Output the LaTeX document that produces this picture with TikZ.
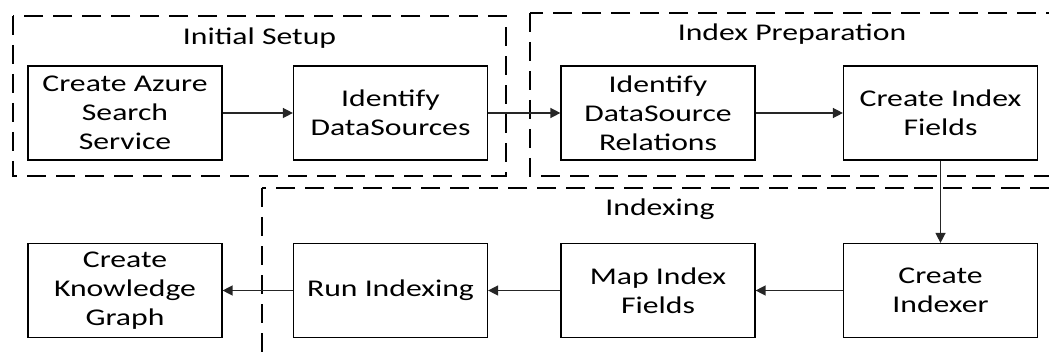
\documentclass[tikz,border=0pt]{standalone}
\usepackage{fontspec}
\setmainfont{Carlito}[FakeStretch=1.32]
\usetikzlibrary{arrows.meta}
\begin{document}
\begin{tikzpicture}[x=1pt,y=-1pt,
  stepbox/.style={draw=black, line width=1.2pt, minimum width=194pt,
    minimum height=94pt, inner sep=0pt, align=center,
    font=\fontsize{24}{29}\selectfont},
  grp/.style={draw=black, line width=2.6pt, dash pattern=on 19pt off 10pt},
  grplabel/.style={inner sep=0pt, font=\fontsize{24}{29}\selectfont},
  flow/.style={draw=black!85, line width=1.4pt,
    -{Triangle[length=10pt,width=10pt]}}]
\useasboundingbox (0,0) rectangle (1049,358);

% phase groups
\draw[grp] (13,16) rectangle (506,176);
\draw[grp] (530,13) rectangle (1055,176);
\draw[grp] (262,188) rectangle (1058,380);
\node[grplabel] (lsetup) at (259.5,38) {Initial Setup};
\node[grplabel] (lprep) at (792,34) {Index Preparation};
\node[grplabel] (lindex) at (660,209) {Indexing};

% steps
\node[stepbox] (azure) at (125,113) {Create Azure\\Search\\Service};
\node[stepbox] (ds) at (390.5,113) {Identify\\DataSources};
\node[stepbox] (rel) at (658,113) {Identify\\DataSource\\Relations};
\node[stepbox] (fields) at (940.5,113) {Create Index\\Fields};
\node[stepbox] (graph) at (125,290.5) {Create\\Knowledge\\Graph};
\node[stepbox] (run) at (390.5,290.5) {Run Indexing};
\node[stepbox] (map) at (658,290.5) {Map Index\\Fields};
\node[stepbox] (indexer) at (940.5,290.5) {Create\\Indexer};

% flow
\draw[flow] (azure) -- (ds);
\draw[flow] (ds) -- (rel);
\draw[flow] (rel) -- (fields);
\draw[flow] (fields) -- (indexer);
\draw[flow] (indexer) -- (map);
\draw[flow] (map) -- (run);
\draw[flow] (run) -- (graph);
\end{tikzpicture}
\end{document}
